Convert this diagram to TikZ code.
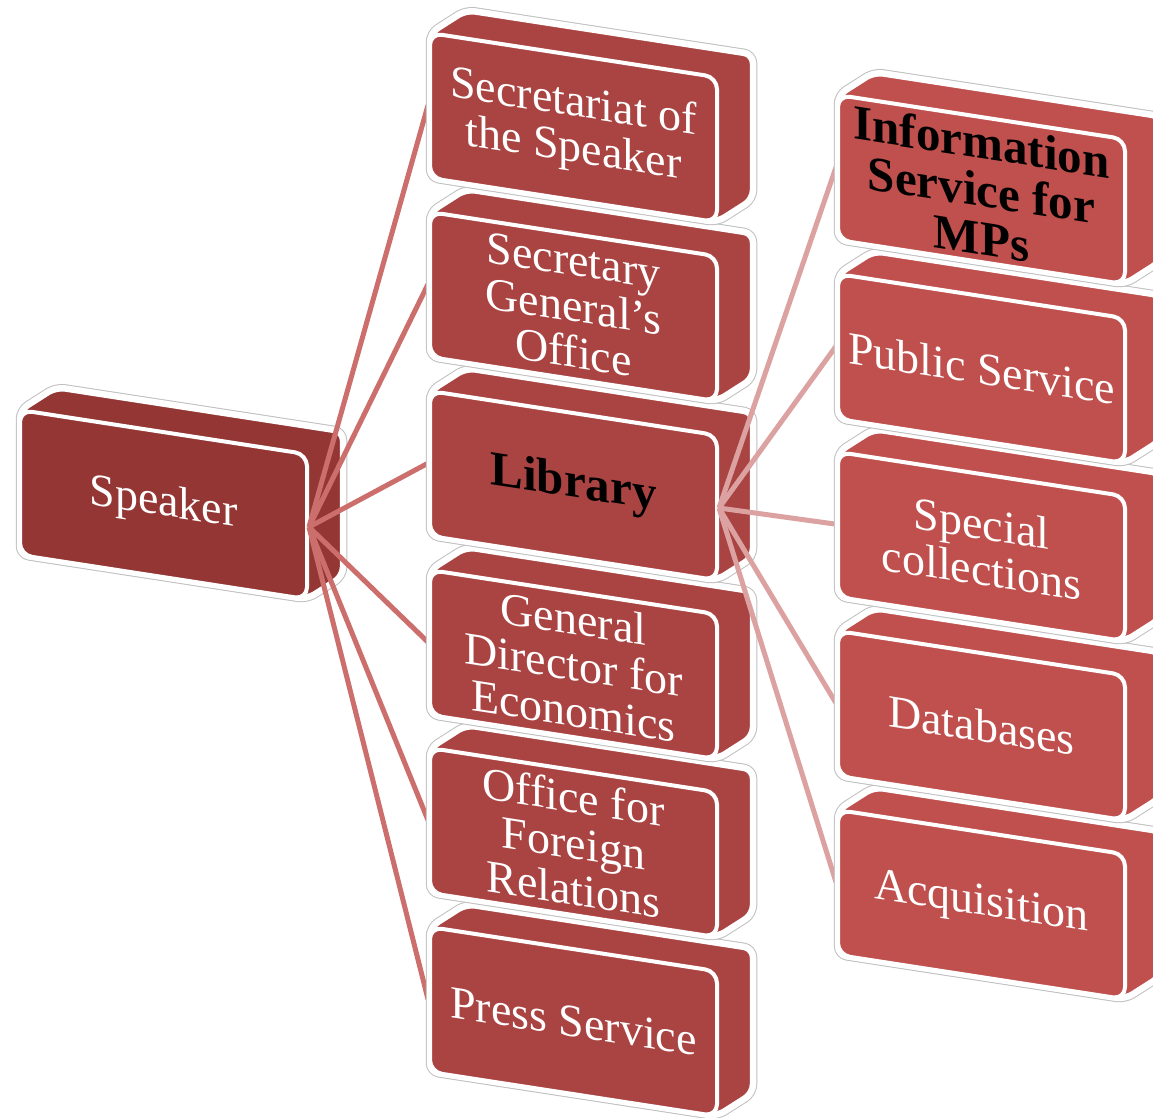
\documentclass[tikz,border=0pt]{standalone}
\usepackage{fontspec}
\setmainfont{Liberation Serif}
\pgfdeclarelayer{back}
\pgfdeclarelayer{cone}
\pgfdeclarelayer{ctwo}
\pgfdeclarelayer{front}
\pgfsetlayers{back,cone,main,ctwo,front}
\definecolor{spkcol}{HTML}{943634}
\definecolor{midcol}{HTML}{AA4442}
\definecolor{rgtcol}{HTML}{C0504D}
\definecolor{lineA}{HTML}{CB6E6C}
\definecolor{lineB}{HTML}{DBA2A1}
\tikzset{
  facebox/.style={transform shape, draw=white, line width=4pt, rounded corners=12pt,
    minimum width=287pt, minimum height=145pt, inner sep=0pt, align=center},
  plaintxt/.style={text=white, font=\fontsize{46}{46}\selectfont},
  boldtxt/.style={text=black, font=\fontsize{49}{48}\selectfont\bfseries},
  conA/.style={draw=lineA, line width=5pt},
  conB/.style={draw=lineB, line width=5pt},
}
% #1 name, #2 x, #3 y, #4 colour, #5 text style, #6 text
\newcommand\blockbox[6]{%
  \begin{scope}[shift={(#2,#3)}, yslant=-0.154]
    \path[rounded corners=9pt, draw=black!25, line width=8.5pt, fill=#4]
      (0,0) -- (36,-28.5) -- (323,-28.5) -- (323,116.5) -- (287,145) -- (0,145) -- cycle;
    \path[rounded corners=9pt, draw=white, line width=6.5pt, fill=#4]
      (0,0) -- (36,-28.5) -- (323,-28.5) -- (323,116.5) -- (287,145) -- (0,145) -- cycle;
    \node[facebox, fill=#4, #5] (#1) at (143.5,72.5) {#6};
  \end{scope}}
\begin{document}
\begin{tikzpicture}[x=1pt, y=-1pt]
\useasboundingbox (0,0) rectangle (1153,1117);
\clip (0,0) rectangle (1153,1117);
% speaker
\begin{pgfonlayer}{back}
\blockbox{spk}{20}{410}{spkcol}{plaintxt}{Speaker}
\end{pgfonlayer}
% column 2 (drawn from bottom to top)
\blockbox{prs}{430}{927}{midcol}{plaintxt}{Press Service}
\blockbox{ofr}{430}{748}{midcol}{plaintxt}{Office for\\Foreign\\Relations}
\blockbox{gde}{430}{570}{midcol}{plaintxt}{General\\Director for\\Economics}
\blockbox{lib}{430}{391}{midcol}{boldtxt}{Library}
\blockbox{sgo}{430}{212}{midcol}{plaintxt}{Secretary\\General’s\\Office}
\blockbox{sec}{430}{33}{midcol}{plaintxt}{Secretariat of\\the Speaker}
% column 3
\begin{pgfonlayer}{front}
\blockbox{acq}{838}{810}{rgtcol}{plaintxt}{Acquisition}
\blockbox{dtb}{838}{631}{rgtcol}{plaintxt}{Databases}
\blockbox{spc}{838}{452}{rgtcol}{plaintxt}{Special\\collections}
\blockbox{pub}{838}{274}{rgtcol}{plaintxt}{Public Service}
\blockbox{inf}{838}{95}{rgtcol}{boldtxt}{Information\\Service for\\MPs}
\end{pgfonlayer}
% connectors
\begin{pgfonlayer}{cone}
\foreach \t in {sec,sgo,lib,gde,ofr,prs} \draw[conA] (spk.east) -- (\t.west);
\end{pgfonlayer}
\begin{pgfonlayer}{ctwo}
\foreach \t in {inf,pub,spc,dtb,acq} \draw[conB] (lib.east) -- (\t.west);
\end{pgfonlayer}
\end{tikzpicture}
\end{document}
